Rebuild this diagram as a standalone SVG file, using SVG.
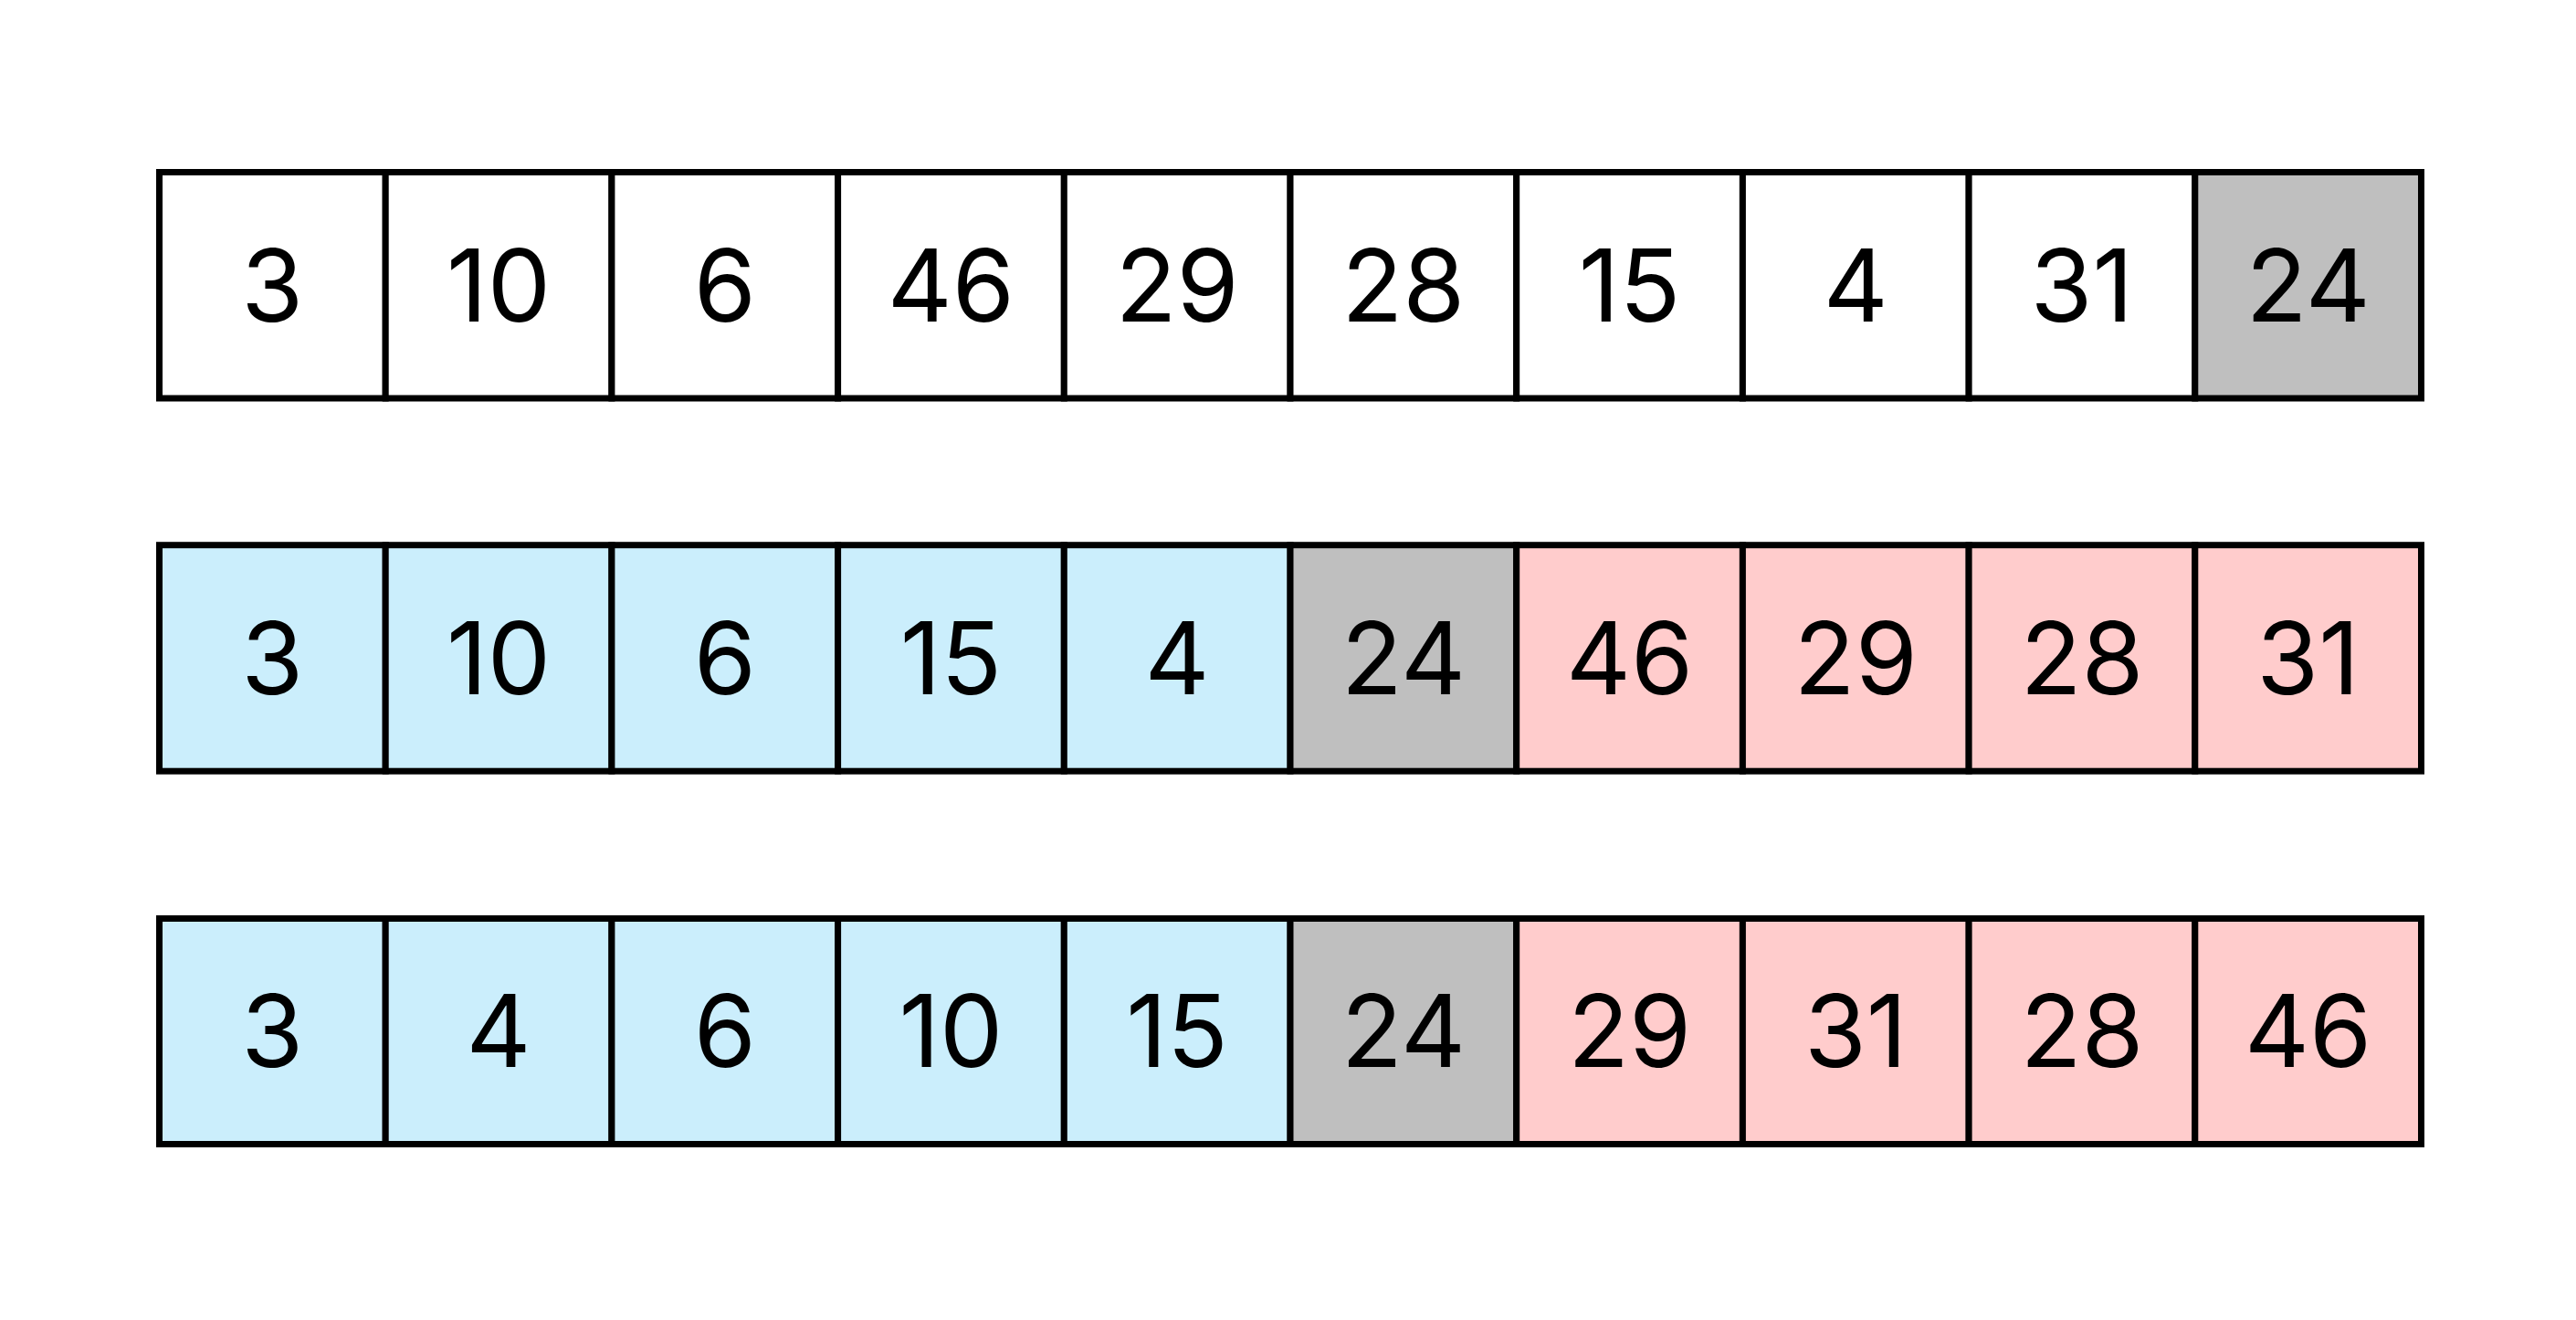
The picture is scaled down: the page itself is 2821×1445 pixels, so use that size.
<svg xmlns="http://www.w3.org/2000/svg" width="2821" height="1445" viewBox="0 0 2821 1445">
<style>
.c rect{stroke:#000;stroke-width:7;}
.w{fill:#fff}.g{fill:#bfbfbf}.b{fill:#cbeefc}.p{fill:#ffcccc}
text{font-family:Inter,"Liberation Sans",sans-serif;font-size:110px;fill:#000;text-anchor:middle}
</style>
<rect width="2821" height="1445" fill="#fff"/>
<g id="row1">
<g id="r1c0" class="c"><rect class="w" x="174.5" y="188.5" width="247.7" height="247.5"/><text x="298.35" y="352">3</text></g>
<g id="r1c1" class="c"><rect class="w" x="422.2" y="188.5" width="247.7" height="247.5"/><text x="546.05" y="352">10</text></g>
<g id="r1c2" class="c"><rect class="w" x="669.9" y="188.5" width="247.7" height="247.5"/><text x="793.75" y="352">6</text></g>
<g id="r1c3" class="c"><rect class="w" x="917.6" y="188.5" width="247.7" height="247.5"/><text x="1041.45" y="352">46</text></g>
<g id="r1c4" class="c"><rect class="w" x="1165.3" y="188.5" width="247.7" height="247.5"/><text x="1289.15" y="352">29</text></g>
<g id="r1c5" class="c"><rect class="w" x="1413" y="188.5" width="247.7" height="247.5"/><text x="1536.85" y="352">28</text></g>
<g id="r1c6" class="c"><rect class="w" x="1660.7" y="188.5" width="247.7" height="247.5"/><text x="1784.55" y="352">15</text></g>
<g id="r1c7" class="c"><rect class="w" x="1908.4" y="188.5" width="247.7" height="247.5"/><text x="2032.25" y="352">4</text></g>
<g id="r1c8" class="c"><rect class="w" x="2156.1" y="188.5" width="247.7" height="247.5"/><text x="2279.95" y="352">31</text></g>
<g id="r1c9" class="c"><rect class="g" x="2403.8" y="188.5" width="247.7" height="247.5"/><text x="2527.65" y="352">24</text></g>
</g>
<g id="row2">
<g id="r2c0" class="c"><rect class="b" x="174.5" y="596.7" width="247.7" height="247.5"/><text x="298.35" y="760">3</text></g>
<g id="r2c1" class="c"><rect class="b" x="422.2" y="596.7" width="247.7" height="247.5"/><text x="546.05" y="760">10</text></g>
<g id="r2c2" class="c"><rect class="b" x="669.9" y="596.7" width="247.7" height="247.5"/><text x="793.75" y="760">6</text></g>
<g id="r2c3" class="c"><rect class="b" x="917.6" y="596.7" width="247.7" height="247.5"/><text x="1041.45" y="760">15</text></g>
<g id="r2c4" class="c"><rect class="b" x="1165.3" y="596.7" width="247.7" height="247.5"/><text x="1289.15" y="760">4</text></g>
<g id="r2c5" class="c"><rect class="g" x="1413" y="596.7" width="247.7" height="247.5"/><text x="1536.85" y="760">24</text></g>
<g id="r2c6" class="c"><rect class="p" x="1660.7" y="596.7" width="247.7" height="247.5"/><text x="1784.55" y="760">46</text></g>
<g id="r2c7" class="c"><rect class="p" x="1908.4" y="596.7" width="247.7" height="247.5"/><text x="2032.25" y="760">29</text></g>
<g id="r2c8" class="c"><rect class="p" x="2156.1" y="596.7" width="247.7" height="247.5"/><text x="2279.95" y="760">28</text></g>
<g id="r2c9" class="c"><rect class="p" x="2403.8" y="596.7" width="247.7" height="247.5"/><text x="2527.65" y="760">31</text></g>
</g>
<g id="row3">
<g id="r3c0" class="c"><rect class="b" x="174.5" y="1005.5" width="247.7" height="247"/><text x="298.35" y="1168">3</text></g>
<g id="r3c1" class="c"><rect class="b" x="422.2" y="1005.5" width="247.7" height="247"/><text x="546.05" y="1168">4</text></g>
<g id="r3c2" class="c"><rect class="b" x="669.9" y="1005.5" width="247.7" height="247"/><text x="793.75" y="1168">6</text></g>
<g id="r3c3" class="c"><rect class="b" x="917.6" y="1005.5" width="247.7" height="247"/><text x="1041.45" y="1168">10</text></g>
<g id="r3c4" class="c"><rect class="b" x="1165.3" y="1005.5" width="247.7" height="247"/><text x="1289.15" y="1168">15</text></g>
<g id="r3c5" class="c"><rect class="g" x="1413" y="1005.5" width="247.7" height="247"/><text x="1536.85" y="1168">24</text></g>
<g id="r3c6" class="c"><rect class="p" x="1660.7" y="1005.5" width="247.7" height="247"/><text x="1784.55" y="1168">29</text></g>
<g id="r3c7" class="c"><rect class="p" x="1908.4" y="1005.5" width="247.7" height="247"/><text x="2032.25" y="1168">31</text></g>
<g id="r3c8" class="c"><rect class="p" x="2156.1" y="1005.5" width="247.7" height="247"/><text x="2279.95" y="1168">28</text></g>
<g id="r3c9" class="c"><rect class="p" x="2403.8" y="1005.5" width="247.7" height="247"/><text x="2527.65" y="1168">46</text></g>
</g>
<g id="connectors"/>
</svg>
